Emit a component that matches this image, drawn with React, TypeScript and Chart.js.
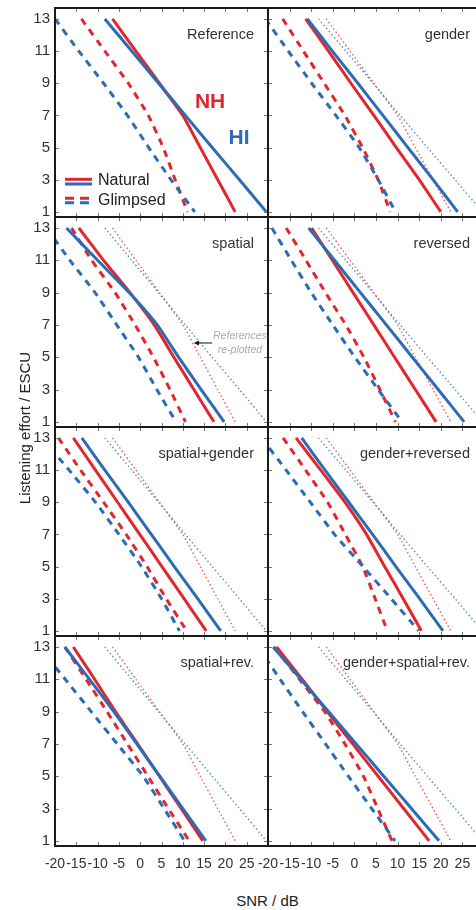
import React, { useEffect, useRef } from 'react';
import { Chart, registerables } from 'chart.js';

Chart.register(...registerables);

// ---------- data ----------
// Listening effort levels (ESCU) at which SNR values were read
const EFFORT_LEVELS = [13, 11, 9, 7, 5, 3, 1];

const X_TICKS = [-20, -15, -10, -5, 0, 5, 10, 15, 20, 25, 30];
const X_TICK_LABELS = ['-20', '-15', '-10', '-5', '0', '5', '10', '15', '20', '25', ''];
const Y_TICKS = [1, 3, 5, 7, 9, 11, 13];
const Y_TICK_LABELS = ['1', '3', '5', '7', '9', '11', '13'];
const X_MIN = -20;
const X_MAX = 30;
const Y_MIN = 0.68;
const Y_MAX = 13.68;

const PANEL_TITLES = [
  'Reference', 'gender', 'spatial', 'reversed',
  'spatial+gender', 'gender+reversed', 'spatial+rev.', 'gender+spatial+rev.',
];
const LEGEND_LABELS = ['Natural', 'Glimpsed'];
const GROUP_LABELS = ['NH', 'HI'];
const ANNOTATION_LINES = ['References', 're-plotted'];
const X_TITLE = 'SNR / dB';
const Y_TITLE = 'Listening effort / ESCU';

// SNR (dB) per effort level
const REF_NH_NATURAL = [-6.5, -1.0, 4.5, 10.0, 14.1, 18.2, 22.3];
const REF_HI_NATURAL = [-8.3, -2.0, 4.3, 10.6, 16.9, 23.3, 29.6];
const REF_NH_GLIMPSED = [-13.8, -8.3, -2.8, 1.9, 5.4, 8.2, 11.1];
const REF_HI_GLIMPSED = [-20.0, -14.4, -8.6, -3.0, 2.0, 7.2, 12.8];

const GENDER_NH_NATURAL = [-11.3, -6.0, -0.8, 4.5, 9.7, 15.0, 20.0];
const GENDER_HI_NATURAL = [-10.9, -5.1, 0.8, 6.6, 12.4, 18.2, 23.9];
const GENDER_NH_GLIMPSED = [-16.6, -11.8, -7.0, -2.2, 1.9, 5.5, 8.3];
const GENDER_HI_GLIMPSED = [-20.6, -15.3, -9.9, -4.3, 1.1, 5.5, 9.5];

const SPATIAL_NH_NATURAL = [-14.4, -8.6, -2.4, 3.3, 7.9, 12.6, 17.3];
const SPATIAL_HI_NATURAL = [-17.3, -10.0, -2.6, 4.0, 9.0, 14.3, 19.7];
const SPATIAL_NH_GLIMPSED = [-16.1, -11.4, -5.9, -1.2, 3.1, 7.0, 10.6];
const SPATIAL_HI_GLIMPSED = [-22.0, -16.5, -10.6, -5.5, -0.4, 3.9, 8.4];

const REVERSED_NH_NATURAL = [-9.9, -5.1, -0.3, 4.5, 9.3, 14.1, 18.9];
const REVERSED_HI_NATURAL = [-10.6, -4.6, 1.4, 7.4, 13.4, 19.4, 25.4];
const REVERSED_NH_GLIMPSED = [-15.8, -11.2, -6.7, -2.0, 2.2, 5.9, 9.5];
const REVERSED_HI_GLIMPSED = [-19.1, -14.6, -10.0, -5.0, 0.1, 5.5, 11.0];

const SG_NH_NATURAL = [-15.7, -10.5, -5.3, -0.1, 5.1, 10.3, 15.5];
const SG_HI_NATURAL = [-13.7, -8.3, -2.8, 2.6, 8.0, 13.5, 18.9];
const SG_NH_GLIMPSED = [-19.2, -14.0, -8.6, -3.3, 1.6, 6.1, 10.9];
const SG_HI_GLIMPSED = [-23.1, -16.7, -10.5, -5.0, 0.3, 5.0, 9.2];

const GR_NH_NATURAL = [-13.5, -7.8, -2.2, 2.8, 7.0, 11.3, 15.5];
const GR_HI_NATURAL = [-12.2, -6.8, -1.3, 4.2, 9.6, 15.1, 20.5];
const GR_NH_GLIMPSED = [-16.5, -11.3, -6.2, -2.1, 1.9, 4.8, 7.6];
const GR_HI_GLIMPSED = [-21.5, -15.8, -10.2, -4.6, 2.0, 8.5, 14.9];

const SR_NH_NATURAL = [-15.7, -10.7, -5.8, -0.6, 4.5, 9.6, 14.7];
const SR_HI_NATURAL = [-17.7, -11.9, -6.2, -0.8, 4.6, 10.0, 15.4];
const SR_NH_GLIMPSED = [-17.7, -12.7, -7.8, -3.0, 1.8, 6.6, 11.5];
const SR_HI_GLIMPSED = [-23.8, -17.6, -11.5, -5.4, 0.7, 5.6, 10.4];

const GSR_NH_NATURAL = [-18.0, -12.1, -6.3, -0.4, 5.5, 11.4, 17.3];
const GSR_HI_NATURAL = [-18.8, -12.4, -6.0, 0.4, 6.8, 13.2, 19.6];
const GSR_NH_GLIMPSED = [-18.6, -12.7, -6.9, -2.2, 2.1, 5.4, 8.7];
const GSR_HI_GLIMPSED = [-22.3, -17.2, -12.0, -6.7, -1.4, 4.0, 9.4];

// annotation anchor points (data units: SNR, effort)
const NH_LABEL_AT = [16.4, 7.85];
const HI_LABEL_AT = [23.2, 5.6];
const ARROW_FROM = [16.9, 5.88];
const ARROW_TO = [12.6, 5.88];
const NOTE_AT = [23.4, 6.3, 5.45];

// ---------- styling / layout ----------
const FONT = '"Liberation Sans", Arial, Helvetica, sans-serif';
const RED = '#e3262d';
const BLUE = '#2b6cb4';
const RED_DOT = 'rgba(232, 70, 70, 0.9)';
const BLUE_DOT = 'rgba(70, 130, 200, 0.9)';

const ROW_TOP = [8, 217, 427, 636];
const ROW_BOTTOM = [217, 427, 636, 846];
const COL_LEFT = [55, 268];
const COL_RIGHT = [268, 484];
const Y_AXIS_W = 55;
const X_AXIS_H = 44;
const PAD = 4;

type PanelData = { nh: number[]; hi: number[]; nhG: number[]; hiG: number[] };
const PANEL_DATA: PanelData[] = [
  { nh: REF_NH_NATURAL, hi: REF_HI_NATURAL, nhG: REF_NH_GLIMPSED, hiG: REF_HI_GLIMPSED },
  { nh: GENDER_NH_NATURAL, hi: GENDER_HI_NATURAL, nhG: GENDER_NH_GLIMPSED, hiG: GENDER_HI_GLIMPSED },
  { nh: SPATIAL_NH_NATURAL, hi: SPATIAL_HI_NATURAL, nhG: SPATIAL_NH_GLIMPSED, hiG: SPATIAL_HI_GLIMPSED },
  { nh: REVERSED_NH_NATURAL, hi: REVERSED_HI_NATURAL, nhG: REVERSED_NH_GLIMPSED, hiG: REVERSED_HI_GLIMPSED },
  { nh: SG_NH_NATURAL, hi: SG_HI_NATURAL, nhG: SG_NH_GLIMPSED, hiG: SG_HI_GLIMPSED },
  { nh: GR_NH_NATURAL, hi: GR_HI_NATURAL, nhG: GR_NH_GLIMPSED, hiG: GR_HI_GLIMPSED },
  { nh: SR_NH_NATURAL, hi: SR_HI_NATURAL, nhG: SR_NH_GLIMPSED, hiG: SR_HI_GLIMPSED },
  { nh: GSR_NH_NATURAL, hi: GSR_HI_NATURAL, nhG: GSR_NH_GLIMPSED, hiG: GSR_HI_GLIMPSED },
];

const toPoints = (snr: number[]) => snr.map((x, i) => ({ x, y: EFFORT_LEVELS[i] }));

const decorPlugin = {
  id: 'decor',
  afterDatasetsDraw(chart: any, _args: any, opts: any) {
    const { ctx, chartArea, scales } = chart;
    const { left, right, top, bottom } = chartArea;
    const xs = scales.x;
    const ys = scales.y;
    ctx.save();

    // inward tick marks on all four sides
    ctx.beginPath();
    ctx.strokeStyle = '#777';
    ctx.lineWidth = 1;
    X_TICKS.forEach((v) => {
      const px = Math.round(xs.getPixelForValue(v)) + 0.5;
      ctx.moveTo(px, bottom);
      ctx.lineTo(px, bottom - 4);
      ctx.moveTo(px, top);
      ctx.lineTo(px, top + 4);
    });
    Y_TICKS.forEach((v) => {
      const py = Math.round(ys.getPixelForValue(v)) + 0.5;
      ctx.moveTo(left, py);
      ctx.lineTo(left + 4, py);
      ctx.moveTo(right, py);
      ctx.lineTo(right - 4, py);
    });
    ctx.stroke();

    // frame
    ctx.strokeStyle = '#1a1a1a';
    ctx.lineWidth = 2;
    ctx.strokeRect(left, top, right - left, bottom - top);

    // panel title
    ctx.fillStyle = '#333';
    ctx.font = `14.5px ${FONT}`;
    ctx.textAlign = 'right';
    ctx.textBaseline = 'middle';
    ctx.fillText(opts.title, right - 14, top + 26.5);

    if (opts.legend) {
      const x0 = left + 10;
      const x1 = left + 37;
      ctx.lineWidth = 3;
      ctx.lineCap = 'butt';
      const seg = (y: number, color: string, dash: number[]) => {
        ctx.beginPath();
        ctx.setLineDash(dash);
        ctx.strokeStyle = color;
        ctx.moveTo(x0, y);
        ctx.lineTo(x1, y);
        ctx.stroke();
      };
      seg(top + 171.3, RED, []);
      seg(top + 176, BLUE, []);
      seg(top + 190.3, RED, [9, 6]);
      seg(top + 194.7, BLUE, [9, 6]);
      ctx.setLineDash([]);
      ctx.fillStyle = '#222';
      ctx.font = `16px ${FONT}`;
      ctx.textAlign = 'left';
      ctx.fillText(LEGEND_LABELS[0], left + 43, top + 172.5);
      ctx.fillText(LEGEND_LABELS[1], left + 43, top + 192.5);

      ctx.font = `bold 21px ${FONT}`;
      ctx.textAlign = 'center';
      ctx.fillStyle = RED;
      ctx.fillText(GROUP_LABELS[0], xs.getPixelForValue(NH_LABEL_AT[0]), ys.getPixelForValue(NH_LABEL_AT[1]));
      ctx.fillStyle = BLUE;
      ctx.fillText(GROUP_LABELS[1], xs.getPixelForValue(HI_LABEL_AT[0]), ys.getPixelForValue(HI_LABEL_AT[1]));
    }

    if (opts.note) {
      const ax0 = xs.getPixelForValue(ARROW_FROM[0]);
      const ay = ys.getPixelForValue(ARROW_FROM[1]);
      const ax1 = xs.getPixelForValue(ARROW_TO[0]);
      ctx.strokeStyle = '#111';
      ctx.fillStyle = '#111';
      ctx.lineWidth = 1;
      ctx.beginPath();
      ctx.moveTo(ax0, ay);
      ctx.lineTo(ax1 + 3, ay);
      ctx.stroke();
      ctx.beginPath();
      ctx.moveTo(ax1, ay);
      ctx.lineTo(ax1 + 5, ay - 2.5);
      ctx.lineTo(ax1 + 5, ay + 2.5);
      ctx.closePath();
      ctx.fill();
      ctx.fillStyle = '#ababab';
      ctx.font = `italic 10.5px ${FONT}`;
      ctx.textAlign = 'center';
      ctx.textBaseline = 'middle';
      const nx = xs.getPixelForValue(NOTE_AT[0]);
      ctx.fillText(ANNOTATION_LINES[0], nx, ys.getPixelForValue(NOTE_AT[1]));
      ctx.fillText(ANNOTATION_LINES[1], nx, ys.getPixelForValue(NOTE_AT[2]));
    }
    ctx.restore();
  },
};

function Panel({ index }: { index: number }) {
  const ref = useRef<HTMLCanvasElement | null>(null);
  const col = index % 2;
  const row = Math.floor(index / 2);
  const isLeft = col === 0;
  const isBottom = row === 3;
  const padLeft = isLeft ? 0 : 20;
  const padRight = isLeft ? 4 : 6;
  const canvasLeft = isLeft ? 0 : COL_LEFT[1] - padLeft;
  const canvasRight = COL_RIGHT[col] + padRight;
  const canvasTop = ROW_TOP[row] - PAD;
  const canvasBottom = ROW_BOTTOM[row] + (isBottom ? X_AXIS_H : PAD);
  const w = canvasRight - canvasLeft;
  const h = canvasBottom - canvasTop;

  useEffect(() => {
    const d = PANEL_DATA[index];
    const datasets: any[] = [
      { data: toPoints(d.hi), borderColor: BLUE, borderWidth: 3 },
      { data: toPoints(d.nh), borderColor: RED, borderWidth: 3 },
      { data: toPoints(d.hiG), borderColor: BLUE, borderWidth: 3, borderDash: [7, 6] },
      { data: toPoints(d.nhG), borderColor: RED, borderWidth: 3, borderDash: [7, 6] },
    ];
    if (index > 0) {
      datasets.push(
        { data: toPoints(REF_HI_NATURAL), borderColor: BLUE_DOT, borderWidth: 1.4, borderDash: [1.5, 2.5] },
        { data: toPoints(REF_NH_NATURAL), borderColor: RED_DOT, borderWidth: 1.4, borderDash: [1.5, 2.5] },
      );
    }
    datasets.forEach((ds) => {
      ds.pointRadius = 0;
      ds.fill = false;
      ds.tension = 0.15;
      ds.borderCapStyle = 'butt';
    });

    const chart = new Chart(ref.current as HTMLCanvasElement, {
      type: 'line',
      data: { datasets },
      plugins: [decorPlugin],
      options: {
        animation: false,
        responsive: false,
        maintainAspectRatio: false,
        events: [],
        layout: {
          padding: {
            left: padLeft,
            right: padRight,
            top: PAD,
            bottom: isBottom ? 0 : PAD,
          },
        },
        scales: {
          x: {
            type: 'linear',
            min: X_MIN,
            max: X_MAX,
            display: isBottom,
            grid: { display: false, drawTicks: false },
            border: { display: false },
            afterBuildTicks: (s: any) => {
              s.ticks = X_TICKS.map((v) => ({ value: v }));
            },
            afterFit: (s: any) => {
              if (isBottom) s.height = X_AXIS_H;
              s.paddingLeft = 0;
              s.paddingRight = 0;
            },
            ticks: {
              autoSkip: false,
              maxRotation: 0,
              minRotation: 0,
              padding: 10,
              color: '#333',
              font: { family: FONT, size: 14 },
              callback: (v: any) => X_TICK_LABELS[X_TICKS.indexOf(Number(v))] ?? '',
            },
          },
          y: {
            type: 'linear',
            min: Y_MIN,
            max: Y_MAX,
            display: isLeft,
            grid: { display: false, drawTicks: false },
            border: { display: false },
            afterBuildTicks: (s: any) => {
              s.ticks = Y_TICKS.map((v) => ({ value: v }));
            },
            afterFit: (s: any) => {
              if (isLeft) s.width = Y_AXIS_W;
              s.paddingTop = 0;
              s.paddingBottom = 0;
            },
            ticks: {
              autoSkip: false,
              padding: 5,
              color: '#333',
              font: { family: FONT, size: 15 },
              callback: (v: any) => Y_TICK_LABELS[Y_TICKS.indexOf(Number(v))] ?? '',
            },
          },
        },
        plugins: {
          legend: { display: false },
          tooltip: { enabled: false },
          decor: { title: PANEL_TITLES[index], legend: index === 0, note: index === 2 },
        } as any,
      },
    });
    return () => chart.destroy();
  }, [index]);

  return (
    <canvas
      ref={ref}
      width={w}
      height={h}
      style={{ position: 'absolute', left: canvasLeft, top: canvasTop, width: w, height: h }}
    />
  );
}

export default function App() {
  return (
    <div
      style={{
        position: 'absolute',
        left: 0,
        top: 0,
        width: 476,
        height: 910,
        overflow: 'hidden',
        background: '#fff',
        fontFamily: FONT,
      }}
    >
      {PANEL_TITLES.map((_, i) => (
        <Panel key={i} index={i} />
      ))}
      <div
        style={{
          position: 'absolute',
          left: 0,
          width: 535,
          top: 892,
          textAlign: 'center',
          fontSize: 15,
          lineHeight: '18px',
          color: '#222',
        }}
      >
        {X_TITLE}
      </div>
      <div
        style={{
          position: 'absolute',
          left: 25 - 100,
          top: 428 - 9,
          width: 200,
          height: 18,
          lineHeight: '18px',
          textAlign: 'center',
          fontSize: 15,
          color: '#222',
          transform: 'rotate(-90deg)',
          whiteSpace: 'nowrap',
        }}
      >
        {Y_TITLE}
      </div>
    </div>
  );
}
